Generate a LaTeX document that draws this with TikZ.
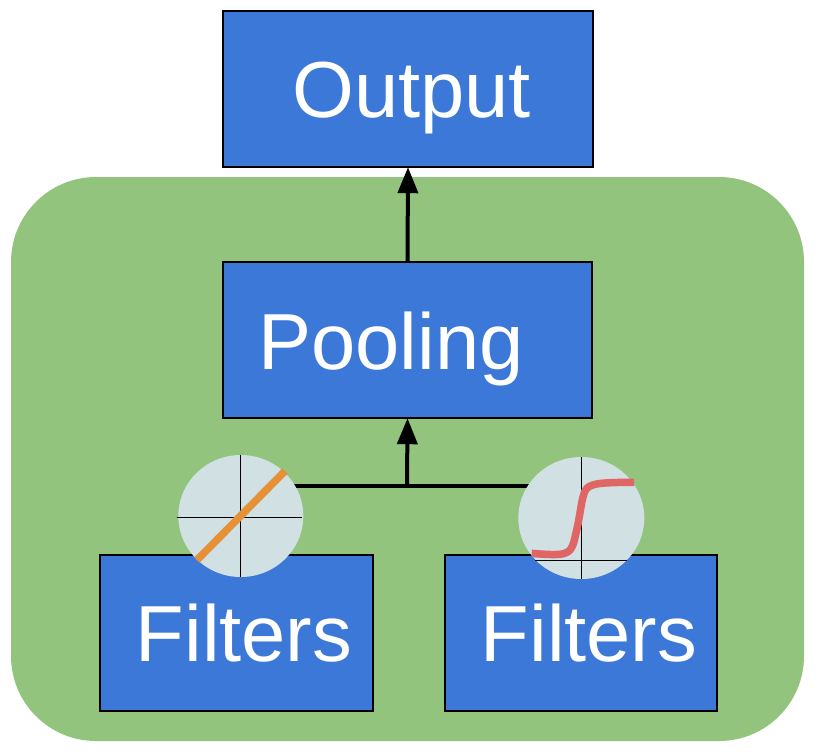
\documentclass[tikz,border=0pt]{standalone}
\usepackage{fontspec}
\setmainfont{Liberation Sans}
\usetikzlibrary{shapes.geometric,arrows.meta}
\definecolor{groupgreen}{HTML}{93C47D}
\definecolor{boxblue}{HTML}{3C78D8}
\definecolor{dialfill}{HTML}{D0E0E3}
\definecolor{lineorange}{HTML}{E69138}
\definecolor{curvered}{HTML}{E06666}
\pgfdeclarelayer{bg}
\pgfsetlayers{bg,main}
\tikzset{
  bluebox/.style={draw=black,fill=boxblue,line width=1.4pt,rectangle,inner sep=0pt},
  boxtext/.style={text=white,anchor=base,inner sep=0pt,font=\fontsize{79.5}{79.5}\selectfont},
  dial/.style={ellipse,fill=dialfill,inner sep=0pt},
  axis/.style={black,line width=1.1pt},
  link/.style={black,line width=4pt},
  linkarrow/.style={link,-{Triangle[length=26pt,width=20pt]},shorten >=-0.5pt},
}
\begin{document}
\begin{tikzpicture}[x=1pt,y=-1pt]
\useasboundingbox (0,0) rectangle (818,753);
\begin{pgfonlayer}{bg}
  \fill[groupgreen,rounded corners=85pt] (11,177) rectangle (804,741);
\end{pgfonlayer}
\node[bluebox,minimum width=370pt,minimum height=156pt] (output) at (408,89) {};
\node[bluebox,minimum width=369pt,minimum height=156pt] (pooling) at (407.5,340) {};
\node[bluebox,minimum width=273pt,minimum height=156pt] (filtersA) at (236.5,633) {};
\node[bluebox,minimum width=272pt,minimum height=156pt] (filtersB) at (581,633) {};
\node[boxtext] (outputtext) at (411.5,117.5) {Output};
\node[boxtext] (poolingtext) at (391,369) {Pooling};
\node[boxtext] (filterstextA) at (244,661) {Filters};
\node[boxtext] (filterstextB) at (589,661) {Filters};
\coordinate (join) at (407,486);
\node[dial,minimum width=125pt,minimum height=122pt] (dialA) at (240.8,516) {};
\node[dial,minimum width=126pt,minimum height=122pt] (dialB) at (581.3,518) {};
\begin{pgfonlayer}{bg}
  \draw[link] (dialA |- join) -- (dialB |- join);
\end{pgfonlayer}
\draw[linkarrow] (join) -- (pooling.south);
\draw[linkarrow] (pooling.north) -- (output.south);
% left dial
\draw[axis] (176.7,517.3) -- (301.7,517.3);
\draw[axis] (240.3,455) -- (240.3,576.7);
\draw[lineorange,line width=7.5pt] (197,560) -- (285,471);
% right dial
\draw[axis] (535,560.3) -- (626.7,560.3);
\draw[axis] (581.7,457) -- (581.7,578.7);
\draw[curvered,line width=7.5pt] (531.7,553.3) .. controls (545,554.5) and (556,555) .. (562,554)
  .. controls (572,552) and (573,546) .. (576,533)
  .. controls (581,512) and (581,500) .. (585,491)
  .. controls (589,483) and (600,482.5) .. (634,482.3);
\end{tikzpicture}
\end{document}
